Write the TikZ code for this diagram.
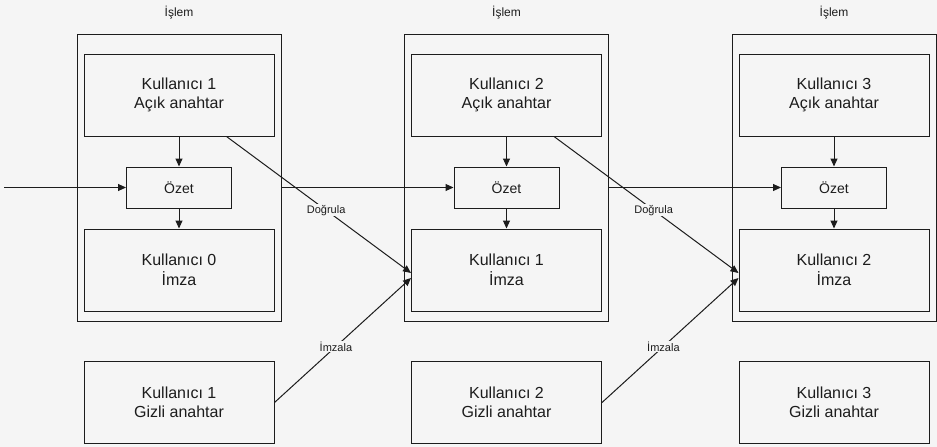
\documentclass[tikz,border=0pt]{standalone}
\usepackage{fontspec}
\setmainfont{Liberation Sans}
\usetikzlibrary{arrows.meta}
\definecolor{paper}{HTML}{F5F5F5}
\definecolor{ink}{HTML}{1C1C1C}

\begin{document}
\begin{tikzpicture}[x=1pt, y=-1pt, line width=1pt, draw=ink, text=ink,
    islem/.style = {draw, minimum width=204pt, minimum height=287pt},
    box/.style = {draw, minimum width=190pt, minimum height=82pt, align=center, font=\fontsize{16}{19.5}\selectfont},
    ozet/.style = {draw, minimum width=105pt, minimum height=41pt, font=\fontsize{14}{17}\selectfont},
    title/.style = {font=\fontsize{12}{14}\selectfont},
    lbl/.style = {fill=paper, inner sep=1pt, font=\fontsize{11}{13}\selectfont},
    arr/.style = {-{Triangle[length=8pt,width=7pt]}}]
    % page
    \fill[paper] (0,0) rectangle (937,447);

    % blocks
    \node[islem] (blk1) at (179,177.5) {};
    \node[islem] (blk2) at (506.5,177.5) {};
    \node[islem] (blk3) at (834,177.5) {};
    \node[title] (t1) at (179,13) {İşlem};
    \node[title] (t2) at (506.5,13) {İşlem};
    \node[title] (t3) at (834,13) {İşlem};

    % public keys, hashes, signatures
    \node[box] (ack1) at (179,95) {Kullanıcı 1\\Açık anahtar};
    \node[ozet] (ozet1) at (179,187.5) {Özet};
    \node[box] (imza1) at (179,270) {Kullanıcı 0\\İmza};
    \node[box] (ack2) at (506.5,95) {Kullanıcı 2\\Açık anahtar};
    \node[ozet] (ozet2) at (506.5,187.5) {Özet};
    \node[box] (imza2) at (506.5,270) {Kullanıcı 1\\İmza};
    \node[box] (ack3) at (834,95) {Kullanıcı 3\\Açık anahtar};
    \node[ozet] (ozet3) at (834,187.5) {Özet};
    \node[box] (imza3) at (834,270) {Kullanıcı 2\\İmza};

    % private keys
    \node[box] (gizli1) at (179,402.5) {Kullanıcı 1\\Gizli anahtar};
    \node[box] (gizli2) at (506.5,402.5) {Kullanıcı 2\\Gizli anahtar};
    \node[box] (gizli3) at (834,402.5) {Kullanıcı 3\\Gizli anahtar};

    \coordinate (giris) at (4,187.5);

    % inside the blocks
    \draw[arr] (giris) -- (ozet1);
    \draw[arr] (ack1) -- (ozet1);
    \draw[arr] (ozet1) -- (imza1);
    \draw[arr] (ack2) -- (ozet2);
    \draw[arr] (ozet2) -- (imza2);
    \draw[arr] (ack3) -- (ozet3);
    \draw[arr] (ozet3) -- (imza3);

    % block to next hash
    \draw[arr] (blk1.east |- ozet1.west) -- (ozet2.west);
    \draw[arr] (blk2.east |- ozet2.west) -- (ozet3.west);

    % verify and sign
    \draw[arr] ([xshift=47.5pt]ack1.south) -- node[lbl, pos=0.54] {Doğrula} ([yshift=-3pt]imza2.west);
    \draw[arr] ([xshift=47.5pt]ack2.south) -- node[lbl, pos=0.54] {Doğrula} ([yshift=-3pt]imza3.west);
    \draw[arr] (gizli1.east) -- node[lbl, pos=0.45] {İmzala} ([yshift=-8pt]imza2.west);
    \draw[arr] (gizli2.east) -- node[lbl, pos=0.45] {İmzala} ([yshift=-8pt]imza3.west);
\end{tikzpicture}
\end{document}
